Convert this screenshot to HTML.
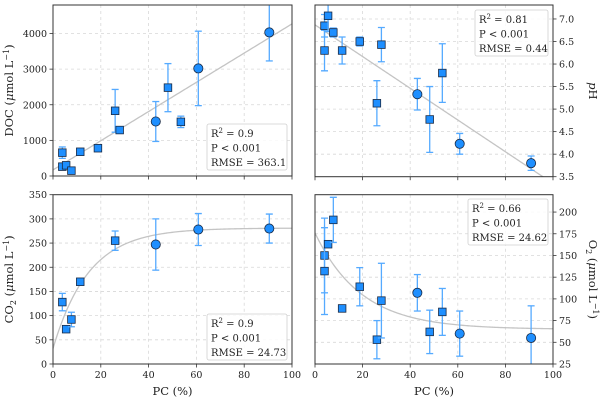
<!DOCTYPE html>
<html><head><meta charset="utf-8">
<style>
html,body{margin:0;padding:0;background:#fff;}
svg{display:block;font-family:"DejaVu Serif","Liberation Serif",serif;}
</style></head>
<body>
<svg id="chart" width="600" height="400" viewBox="0 0 600 400" xmlns="http://www.w3.org/2000/svg"></svg>
<script>
// ---- Panel data ----
const docX = [3.9,3.9,5.5,7.7,11.4,18.8,26,27.9,43,48.1,53.5,60.8,90.5];
const docY = [655,262,300,150,680,780,1830,1290,1530,2480,1520,3020,4030];
const docErr = [160,0,0,0,0,0,600,0,560,675,160,1045,800];
const docCircle = [0,0,0,0,0,0,0,0,1,0,0,1,1];
const docFit = [170,41];           // intercept, slope
const docTicks = [0,1000,2000,3000,4000];

const phX = [4,4,5.5,7.7,11.4,18.8,26,27.9,43,48.2,53.5,60.8,90.8];
const phY = [6.3,6.85,7.07,6.7,6.3,6.5,5.13,6.43,5.33,4.77,5.8,4.23,3.8];
const phErr = [0.45,0.25,0.35,0.1,0.3,0.1,0.5,0.38,0.35,0.73,0.65,0.23,0.16];
const phCircle = [0,0,0,0,0,0,0,0,1,0,0,1,1];
const phFit = [6.87,-0.0352];
const phTicks = ["3.5","4.0","4.5","5.0","5.5","6.0","6.5","7.0"];

const co2X = [3.9,5.5,7.7,11.4,26,43,60.8,90.5];
const co2Y = [128,72,92,170,255,247,278,280];
const co2Err = [18,0,15,0,20,53,33,30];
const co2Circle = [0,0,0,0,0,1,1,1];
const co2Fit = [281,32,0.067]; // asymptote, y0, rate
const co2Ticks = [0,50,100,150,200,250,300,350];

const o2X = [4,4,5.5,7.7,11.4,18.8,26,27.9,43,48.2,53.5,60.8,90.8];
const o2Y = [150,132,163,191,89,114,53,98,107,62,85,60,55];
const o2Err = [43,50,0,26,0,22,22,43,21,25,27,26,37];
const o2Circle = [0,0,0,0,0,0,0,0,1,0,0,1,1];
const o2Fit = [65,176,0.0515];
const o2Ticks = [25,50,75,100,125,150,175,200];

const xTicks = [0,20,40,60,80,100];

const NS="http://www.w3.org/2000/svg";
const svg=document.getElementById('chart');
function mk(tag,attrs,parent){const e=document.createElementNS(NS,tag);for(const k in attrs)e.setAttribute(k,attrs[k]);(parent||svg).appendChild(e);return e;}

function panel(o){
  const g=mk('g',{});
  
  
  const sx=v=>o.L+(v-0)/100*(o.R-o.L);
  const sy=v=>o.B-(v-o.ymin)/(o.ymax-o.ymin)*(o.B-o.T);
  const clipId=o.name+'-clip';
  const cp=mk('clipPath',{id:clipId},g);mk('rect',{x:o.L,y:o.T,width:o.R-o.L,height:o.B-o.T},cp);
  // grid
  const grid=mk('g',{},g);
  
  
  xTicks.forEach(t=>{if(t>0&&t<100)mk('line',{x1:sx(t),x2:sx(t),y1:o.T,y2:o.B,stroke:'#d8d8d8','stroke-width':0.8,'stroke-dasharray':'3,3'},grid);});
  o.yt.forEach(t=>{const v=+t;const y=sy(v);if(y>o.T+1&&y<o.B-1)mk('line',{x1:o.L,x2:o.R,y1:y,y2:y,stroke:'#d8d8d8','stroke-width':0.8,'stroke-dasharray':'3,3'},grid);});
  // fit line
  let d='';
  for(let i=0;i<=200;i++){const x=i/2;const y=o.fit(x);d+=(i?'L':'M')+sx(x).toFixed(2)+','+sy(y).toFixed(2);}
  const fl=mk('path',{d:d,fill:'none',stroke:'#c4c4c4','stroke-width':1.3,'clip-path':'url(#'+clipId+')'},g);
  
  
  // points
  const pts=mk('g',{'clip-path':'url(#'+clipId+')'},g);
  o.xs.forEach((xv,i)=>{
    const cx=sx(xv),cy=sy(o.ys[i]),e=o.err[i];
    if(e>0){
      const eb=mk('g',{stroke:'#55aaff','stroke-width':1.3},pts);
      
      
      const y1=sy(o.ys[i]+e),y2=sy(o.ys[i]-e);
      mk('line',{x1:cx,x2:cx,y1:y1,y2:y2},eb);
      mk('line',{x1:cx-3.5,x2:cx+3.5,y1:y1,y2:y1},eb);
      mk('line',{x1:cx-3.5,x2:cx+3.5,y1:y2,y2:y2},eb);
    }
    let m;
    if(o.circ[i]) m=mk('circle',{cx:cx,cy:cy,r:4.6,fill:'#1e8fff',stroke:'#1a2a44','stroke-width':0.8},pts);
    else m=mk('rect',{x:cx-3.8,y:cy-3.8,width:7.6,height:7.6,fill:'#1e8fff',stroke:'#1a2a44','stroke-width':0.8},pts);
    
    
  });
  // frame
  mk('rect',{x:o.L,y:o.T,width:o.R-o.L,height:o.B-o.T,fill:'none',stroke:'#333','stroke-width':1},g);
  // x ticks
  xTicks.forEach(t=>{mk('line',{x1:sx(t),x2:sx(t),y1:o.B,y2:o.B+3.5,stroke:'#333','stroke-width':0.8},g);
    if(o.xlab){const tx=mk('text',{x:sx(t),y:o.B+14,'font-size':9.5,'text-anchor':'middle',fill:'#222'},g);tx.textContent=t;
      
      }});
  // y ticks
  o.yt.forEach(t=>{const y=sy(+t);
    if(o.right){mk('line',{x1:o.R,x2:o.R+3.5,y1:y,y2:y,stroke:'#333','stroke-width':0.8},g);
      const tx=mk('text',{x:o.R+6,y:y+3.5,'font-size':9.5,'text-anchor':'start',fill:'#222'},g);tx.textContent=t;
      
      }
    else{mk('line',{x1:o.L-3.5,x2:o.L,y1:y,y2:y,stroke:'#333','stroke-width':0.8},g);
      const tx=mk('text',{x:o.L-6,y:y+3.5,'font-size':9.5,'text-anchor':'end',fill:'#222'},g);tx.textContent=t;
      
      }
  });
  // legend
  const lg=mk('g',{},g);
  
  
  mk('rect',{x:o.box[0],y:o.box[1],width:o.box[2],height:46,rx:2,fill:'#fff','fill-opacity':0.85,stroke:'#d0d0d0','stroke-width':0.8},lg);
  const lx=o.box[0]+4,ly=o.box[1]+13;
  const t1=mk('text',{x:lx,y:ly,'font-size':10,fill:'#222'},lg);
  t1.innerHTML='R<tspan dy="-4" font-size="7">2</tspan><tspan dy="4"> = '+o.stats[0]+'</tspan>';
  const t2=mk('text',{x:lx,y:ly+14.5,'font-size':10,fill:'#222'},lg);t2.textContent='P < 0.001';
  const t3=mk('text',{x:lx,y:ly+29,'font-size':10,fill:'#222'},lg);t3.textContent='RMSE = '+o.stats[1];
  // labels
  if(o.xlab){const xl=mk('text',{x:(o.L+o.R)/2,y:o.B+31,'font-size':11.5,'text-anchor':'middle',fill:'#222'},g);xl.textContent='PC (%)';
    
    }
  const yx=o.right?o.R+36:13, ycy=(o.T+o.B)/2;
  const yl=mk('text',{x:yx,y:ycy,'font-size':11.5,'text-anchor':'middle',fill:'#222',transform:'rotate('+(o.right?90:-90)+' '+yx+' '+ycy+')'},g);
  yl.innerHTML=o.ylabel;
  
  
}

panel({name:'doc-panel',L:53,R:292,T:5,B:176,ymin:0,ymax:4800,xs:docX,ys:docY,err:docErr,circ:docCircle,
  fit:x=>docFit[0]+docFit[1]*x,yt:docTicks,right:false,xlab:false,box:[207,124,80],stats:['0.9','363.1'],
  ylabel:'DOC (<tspan font-style="italic">μ</tspan>mol L<tspan dy="-4" font-size="8">−1</tspan><tspan dy="4">)</tspan>'});
panel({name:'ph-panel',L:315,R:553,T:5,B:176.7,ymin:3.5,ymax:7.31,xs:phX,ys:phY,err:phErr,circ:phCircle,
  fit:x=>phFit[0]+phFit[1]*x,yt:phTicks,right:true,xlab:false,box:[475,10,73],stats:['0.81','0.44'],
  ylabel:'<tspan font-style="italic">p</tspan>H'});
panel({name:'co2-panel',L:53,R:292,T:194.7,B:364,ymin:0,ymax:350,xs:co2X,ys:co2Y,err:co2Err,circ:co2Circle,
  fit:x=>co2Fit[0]-(co2Fit[0]-co2Fit[1])*Math.exp(-co2Fit[2]*x),yt:co2Ticks,right:false,xlab:true,box:[207,314,80],stats:['0.9','24.73'],
  ylabel:'CO<tspan dy="3" font-size="8">2</tspan><tspan dy="-3"> (</tspan><tspan font-style="italic">μ</tspan>mol L<tspan dy="-4" font-size="8">−1</tspan><tspan dy="4">)</tspan>'});
panel({name:'o2-panel',L:315,R:553,T:194.7,B:364,ymin:25,ymax:220,xs:o2X,ys:o2Y,err:o2Err,circ:o2Circle,
  fit:x=>o2Fit[0]+(o2Fit[1]-o2Fit[0])*Math.exp(-o2Fit[2]*x),yt:o2Ticks,right:true,xlab:true,box:[468,199,80],stats:['0.66','24.62'],
  ylabel:'O<tspan dy="3" font-size="8">2</tspan><tspan dy="-3"> (</tspan><tspan font-style="italic">μ</tspan>mol L<tspan dy="-4" font-size="8">−1</tspan><tspan dy="4">)</tspan>'});
</script>
</body></html>
